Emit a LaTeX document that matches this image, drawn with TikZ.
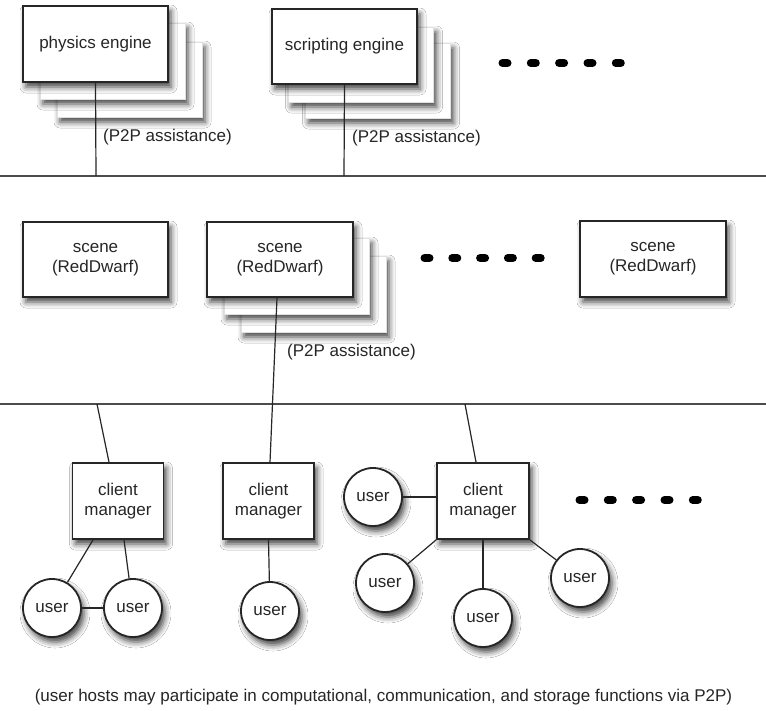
\documentclass[tikz,border=0pt]{standalone}
\usepackage{fontspec}
\setmainfont{Liberation Sans}
\usetikzlibrary{shadows.blur,calc}
\definecolor{ink}{HTML}{262626}
\tikzset{
  shd/.style={blur shadow={shadow xshift=3pt,shadow yshift=-5pt,shadow blur radius=6pt,shadow opacity=75}},
  front/.style={draw=ink,line width=1.8pt,fill=white,shd,text=ink,align=center,font=\fontsize{17}{20}\selectfont,inner sep=0pt},
  backbox/.style={draw=black!12,line width=0.6pt,fill=white,shd,inner sep=0pt},
  userc/.style={circle,draw=ink,line width=1.8pt,fill=white,shd,minimum size=58pt,inner sep=0pt,text=ink,font=\fontsize{17}{20}\selectfont},
  conn/.style={draw=ink,line width=1.2pt},
  sep/.style={draw=black!70,line width=1.4pt},
  lbl/.style={text=ink,font=\fontsize{17}{20}\selectfont,inner sep=0pt,anchor=west},
  dsh/.style={line width=8pt,line cap=round,draw=black}
}
\begin{document}
\begin{tikzpicture}[x=1pt,y=-1pt]
\fill[white] (0,0) rectangle (766,710);
\useasboundingbox (0,0) rectangle (766,710);
% separators
\coordinate (s1a) at (0,176); \coordinate (s1b) at (766,176);
\coordinate (s2a) at (0,404); \coordinate (s2b) at (766,404);
\draw[sep] (s1a) -- (s1b);
\draw[sep] (s2a) -- (s2b);
% physics engine stack
\node[backbox,minimum width=145pt,minimum height=75pt] (pe3) at (129.5,79.5) {};
\node[backbox,minimum width=145pt,minimum height=76pt] (pe2) at (112.5,61) {};
\node[front,minimum width=145pt,minimum height=76pt] (pe) at (95.5,44) {physics engine};
% scripting engine stack
\node[backbox,minimum width=145pt,minimum height=75pt] (se3) at (378,80.5) {};
\node[backbox,minimum width=145pt,minimum height=75pt] (se2) at (361,64.5) {};
\node[front,minimum width=145pt,minimum height=75pt] (se) at (344.5,46.5) {scripting engine};
% scenes
\node[front,minimum width=145pt,minimum height=75pt] (sc1) at (95.5,259.5) {scene\\(RedDwarf)};
\node[backbox,minimum width=145pt,minimum height=76pt] (sc2c) at (313.5,294) {};
\node[backbox,minimum width=145pt,minimum height=76pt] (sc2b) at (296.5,276) {};
\node[front,minimum width=146pt,minimum height=75pt] (sc2) at (280,259.5) {scene\\(RedDwarf)};
\node[front,minimum width=146pt,minimum height=76pt] (sc3) at (653,259) {scene\\(RedDwarf)};
% labels
\node[lbl] (l1) at (103,137) {(P2P assistance)};
\node[lbl] (l2) at (352,138) {(P2P assistance)};
\node[lbl] (l3) at (287,352) {(P2P assistance)};
% client managers
\node[front,minimum width=91pt,minimum height=76pt] (cm1) at (118,501) {client\\manager};
\node[front,minimum width=91pt,minimum height=76pt] (cm2) at (268.5,501) {client\\manager};
\node[front,minimum width=92pt,minimum height=76pt] (cm3) at (483,501) {client\\manager};
% users
\node[userc] (u1) at (52,608) {user};
\node[userc] (u2) at (133,608) {user};
\node[userc] (u3) at (270,611) {user};
\node[userc] (u4) at (373,497) {user};
\node[userc] (u5) at (385,583) {user};
\node[userc] (u6) at (483,618) {user};
\node[userc] (u7) at (580,578) {user};
% connectors to separators
\coordinate (t1) at (96,176);
\coordinate (t2) at (344,176);
\coordinate (b1) at (97,404);
\coordinate (b3) at (465,404);
\draw[conn] (pe.south) -- (t1);
\draw[conn] (se.south) -- (t2);
\draw[conn] ($(sc2.south)+(-3,0)$) -- ($(cm2.north)+(1.5,0)$);
\draw[conn] (b1) -- ($(cm1.north)+(-9,0)$);
\draw[conn] (b3) -- ($(cm3.north)+(-7,0)$);
% client-user connectors
\draw[conn] ($(cm1.south)+(-25,0)$) -- (u1);
\draw[conn] ($(cm1.south)+(6,0)$) -- (u2);
\draw[conn] (u1) -- (u2);
\draw[conn] (cm2.south) -- (u3);
\draw[conn] (u4) -- (u4 -| cm3.west);
\draw[conn] (cm3.south west) -- (u5);
\draw[conn] (cm3.south) -- (u6);
\draw[conn] (cm3.south east) -- (u7);
% ellipsis dashes
\foreach \cx in {505,533.3,561.6,590,618.3} \draw[dsh] (\cx-2.5,63) -- (\cx+2.5,63);
\foreach \cx in {427,454.8,482.6,510.4,538.2} \draw[dsh] (\cx-2.5,258) -- (\cx+2.5,258);
\foreach \cx in {582,610.3,638.6,667,695.3} \draw[dsh] (\cx-2.5,500) -- (\cx+2.5,500);
% footer
\node[text=ink,font=\fontsize{17}{20}\selectfont,inner sep=0pt] (foot) at (383.5,697) {(user hosts may participate in computational, communication, and storage functions via P2P)};
\end{tikzpicture}
\end{document}
